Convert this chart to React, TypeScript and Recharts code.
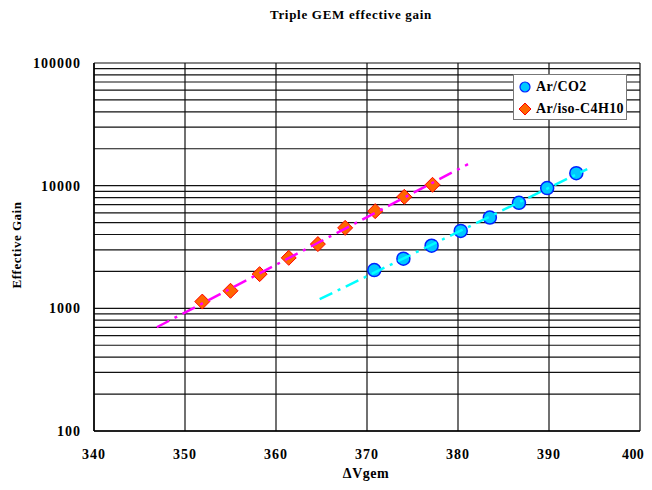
import { ScatterChart, Scatter, XAxis, YAxis, CartesianGrid } from "recharts"

const X_TICKS = [340, 350, 360, 370, 380, 390, 400]
const Y_TICKS = [
  100, 200, 300, 400, 500, 600, 700, 800, 900,
  1000, 2000, 3000, 4000, 5000, 6000, 7000, 8000, 9000,
  10000, 20000, 30000, 40000, 50000, 60000, 70000, 80000, 90000,
  100000,
]
const Y_LABELS = [100, 1000, 10000, 100000]

// Ar/CO2 measured points
const arCo2Voltage = [370.8, 374.0, 377.1, 380.3, 383.5, 386.7, 389.8, 393.0]
const arCo2Gain = [2050, 2540, 3240, 4280, 5500, 7240, 9550, 12650]

// Ar/iso-C4H10 measured points
const isoVoltage = [351.9, 355.0, 358.2, 361.4, 364.6, 367.6, 370.9, 374.1, 377.2]
const isoGain = [1135, 1390, 1900, 2580, 3340, 4530, 6200, 8110, 10160]

// exponential trend lines (end points)
const arCo2TrendVoltage = [364.8, 394.2]
const arCo2TrendGain = [1186, 13650]
const isoTrendVoltage = [346.9, 381.1]
const isoTrendGain = [701, 14960]

const toPoints = (xs: number[], ys: number[]) => xs.map((x, i) => ({ x, y: ys[i] }))

const FONT = '"Liberation Serif", "Times New Roman", serif'
const CIRCLE_FILL = "#00c8ff"
const CIRCLE_STROKE = "#0022ff"
const DIAMOND_FILL = "#ff6600"
const DIAMOND_STROKE = "#ff0000"

const Circle = (props: any) => (
  <circle cx={props.cx} cy={props.cy} r={6.5} fill={CIRCLE_FILL} stroke={CIRCLE_STROKE} strokeWidth={1.5} />
)

const Diamond = (props: any) => {
  const { cx, cy } = props
  const s = 7.5
  return (
    <polygon
      points={`${cx},${cy - s} ${cx + s},${cy} ${cx},${cy + s} ${cx - s},${cy}`}
      fill={DIAMOND_FILL}
      stroke={DIAMOND_STROKE}
      strokeWidth={1}
    />
  )
}

const NoDot = () => <g />

// last label would run past the right edge, so it is anchored at its end
const XTick = (props: any) => {
  const { x, y, payload } = props
  const last = payload.value === X_TICKS[X_TICKS.length - 1]
  return (
    <text
      x={last ? x + 4 : x}
      y={y}
      dy="0.71em"
      textAnchor={last ? "end" : "middle"}
      fill="#000"
      fontSize={14}
      fontWeight={700}
      fontFamily={FONT}
      letterSpacing={last ? 0.3 : 1}
    >
      {payload.value}
    </text>
  )
}

const LegendBox = () => (
  <div
    style={{
      position: "absolute",
      left: 505,
      top: 66,
      width: 114,
      height: 46,
      border: "1px solid #777",
      background: "#fff",
      fontFamily: FONT,
      fontWeight: 700,
      fontSize: 14,
      letterSpacing: 0.4,
      color: "#000",
      boxSizing: "border-box",
      paddingLeft: 4,
      whiteSpace: "nowrap",
    }}
  >
    <div style={{ display: "flex", alignItems: "center", height: 22, marginTop: 1 }}>
      <svg width={14} height={14} style={{ marginRight: 4 }}>
        <circle cx={7} cy={7} r={5} fill={CIRCLE_FILL} stroke={CIRCLE_STROKE} strokeWidth={1.2} />
      </svg>
      Ar/CO2
    </div>
    <div style={{ display: "flex", alignItems: "center", height: 22 }}>
      <svg width={14} height={14} style={{ marginRight: 4 }}>
        <polygon points="7,1 13,7 7,13 1,7" fill={DIAMOND_FILL} stroke={DIAMOND_STROKE} strokeWidth={1} />
      </svg>
      Ar/iso-C4H10
    </div>
  </div>
)

export default function App() {
  const tickStyle = { fill: "#000", fontSize: 14, fontWeight: 700, fontFamily: FONT, letterSpacing: 1 }
  return (
    <div style={{ position: "relative", width: 636, height: 474 }}>
      <div
        style={{
          position: "absolute",
          left: 243,
          width: 200,
          top: -1,
          textAlign: "center",
          fontFamily: FONT,
          fontWeight: 700,
          fontSize: 13,
          letterSpacing: 0.7,
        }}
      >
        Triple GEM effective gain
      </div>
      <div
        style={{
          position: "absolute",
          left: 9,
          top: 237,
          transform: "translate(-50%, -50%) rotate(-90deg)",
          whiteSpace: "nowrap",
          fontFamily: FONT,
          fontWeight: 700,
          fontSize: 13,
          letterSpacing: 0.5,
        }}
      >
        Effective Gain
      </div>
      <div
        style={{
          position: "absolute",
          left: 358,
          top: 466,
          transform: "translate(-50%, -50%)",
          whiteSpace: "nowrap",
          fontFamily: FONT,
          fontWeight: 700,
          fontSize: 14,
          letterSpacing: 0.5,
        }}
      >
        ΔVgem
      </div>
      <ScatterChart
        width={636}
        height={474}
        margin={{ top: 55, right: 4, left: 6, bottom: 21 }}
      >
        <CartesianGrid stroke="#111" strokeWidth={1.2} />
        <XAxis
          type="number"
          dataKey="x"
          domain={[340, 400]}
          ticks={X_TICKS}
          interval={0}
          height={30}
          tickSize={0}
          tickMargin={18}
          axisLine={{ stroke: "#000", strokeWidth: 1.5 }}
          tick={<XTick />}
        />
        <YAxis
          type="number"
          dataKey="y"
          scale="log"
          domain={[100, 100000]}
          allowDataOverflow
          ticks={Y_TICKS}
          interval={0}
          width={80}
          tickSize={0}
          tickMargin={13}
          axisLine={{ stroke: "#000", strokeWidth: 1.5 }}
          tick={tickStyle}
          tickFormatter={(v: number) => (Y_LABELS.includes(v) ? String(v) : "")}
        />
        <Scatter
          name="Ar/CO2"
          data={toPoints(arCo2Voltage, arCo2Gain)}
          shape={Circle}
          isAnimationActive={false}
        />
        <Scatter
          name="Ar/iso-C4H10"
          data={toPoints(isoVoltage, isoGain)}
          shape={Diamond}
          isAnimationActive={false}
        />
        <Scatter
          name="Ar/CO2 trend"
          data={toPoints(arCo2TrendVoltage, arCo2TrendGain)}
          line={{ stroke: "#00ffff", strokeWidth: 2.5, strokeDasharray: "14 6 3 6" }}
          shape={NoDot}
          legendType="none"
          isAnimationActive={false}
        />
        <Scatter
          name="Ar/iso-C4H10 trend"
          data={toPoints(isoTrendVoltage, isoTrendGain)}
          line={{ stroke: "#ff00ff", strokeWidth: 2.5, strokeDasharray: "14 6 3 6" }}
          shape={NoDot}
          legendType="none"
          isAnimationActive={false}
        />
      </ScatterChart>
      <LegendBox />
    </div>
  )
}
